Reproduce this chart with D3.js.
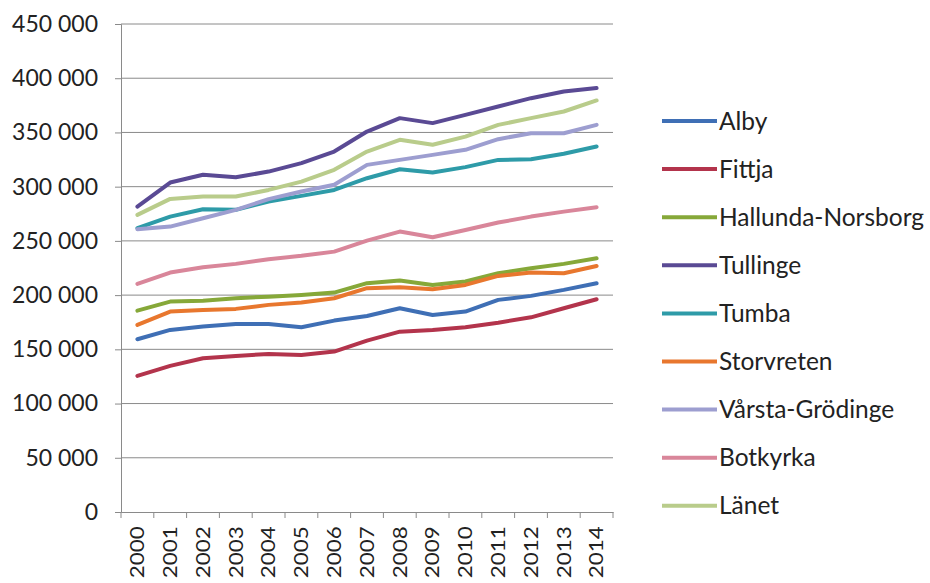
<!DOCTYPE html>
<html><head><meta charset="utf-8">
<script src="https://cdn.jsdelivr.net/npm/d3@7"></script>
<style>body{margin:0;background:#fff}svg{display:block}text{font-family:Lato,"Open Sans",sans-serif;fill:#222}</style>
</head><body><svg id="c" width="930" height="583"></svg>
<script>
const years = ["2000","2001","2002","2003","2004","2005","2006","2007","2008","2009","2010","2011","2012","2013","2014"];
const seriesNames = ["Alby","Fittja","Hallunda-Norsborg","Tullinge","Tumba","Storvreten","Vårsta-Grödinge","Botkyrka","Länet"];
const alby      = [159300,167900,171000,173400,173400,170400,176500,180800,187900,181700,184800,195600,199300,204800,211000];
const fittja    = [125500,134700,141800,143900,145800,144800,147900,158000,166300,167900,170400,174600,179500,187900,196200];
const hallunda  = [185700,194000,194900,197100,198600,200200,202300,211000,213400,209400,212500,220200,224800,228800,234000];
const tullinge  = [281600,303800,311000,308700,313900,321700,332400,350800,363200,358600,366200,373900,381600,387800,390900];
const tumba     = [261700,272400,279200,278600,286300,291500,297000,307800,316100,313000,318000,324700,325300,330300,337000];
const storvreten= [172500,184800,186300,187300,191000,193100,197100,206400,207300,205400,209400,217700,220800,220200,226900];
const varsta    = [260800,263200,270900,278600,288500,295500,301700,320100,324700,329300,334000,343800,349300,349300,357000];
const botkyrka  = [210300,220800,225700,228800,233100,236200,240100,250300,258600,253400,260100,266900,272400,277000,281100];
const lanet     = [274000,288700,290900,290900,297000,304700,315500,332400,343200,338600,346200,357000,363200,369300,379500];
const yTicks = [0,50000,100000,150000,200000,250000,300000,350000,400000,450000];
const colors = ["#3F6FB5","#B3344C","#86A839","#5A4A94","#2E9BA8","#E8772E","#9D9ED0","#D9869A","#B9CC8B"];

const values = [alby,fittja,hallunda,tullinge,tumba,storvreten,varsta,botkyrka,lanet];
const series = seriesNames.map((n,i)=>({name:n, values:values[i], color:colors[i]}));

const svg = d3.select("#c");
const mL=121, mR=613, mT=24, mB=512;
const x = d3.scaleBand().domain(years).range([mL,mR]);
const y = d3.scaleLinear().domain([0,450000]).range([mB,mT]);
const fmt = v => d3.format(",")(v).replace(/,/g," ");

// gridlines
svg.append("g").selectAll("line").data(yTicks.filter(d=>d>0)).join("line")
  .attr("x1",mL).attr("x2",mR).attr("y1",d=>y(d)).attr("y2",d=>y(d))
  .attr("stroke","#8a8a8a").attr("stroke-width",1);

// y axis
const ya = svg.append("g").attr("transform",`translate(${mL},0)`)
  .call(d3.axisLeft(y).tickValues(yTicks).tickFormat(fmt).tickSize(6).tickPadding(17));
ya.select(".domain").attr("stroke","#8a8a8a");
ya.selectAll(".tick line").attr("stroke","#8a8a8a");
ya.selectAll("text").attr("font-size",23).attr("fill","#222").style("font-family","Lato");

// x axis
const xa = svg.append("g").attr("transform",`translate(0,${mB})`)
  .call(d3.axisBottom(x).tickSize(0).tickFormat(d=>d));
xa.select(".domain").attr("stroke","#8a8a8a");
xa.selectAll(".tick text").attr("font-size",19).attr("fill","#222").style("font-family","Lato")
  .attr("transform","rotate(-90) scale(1.18,1)").attr("text-anchor","end").attr("dy","0.36em").attr("x",-12).attr("y",0);
// category boundary tick marks
svg.append("g").selectAll("line").data(years.concat(["end"])).join("line")
  .attr("x1",(d,i)=> i<years.length ? x(d) : mR).attr("x2",(d,i)=> i<years.length ? x(d) : mR)
  .attr("y1",mB).attr("y2",mB+6).attr("stroke","#8a8a8a");

// lines
const line = d3.line().x((d,i)=>x(years[i])+x.bandwidth()/2).y(d=>y(d));
svg.append("g").selectAll("path").data(series).join("path")
  .attr("d",d=>line(d.values)).attr("fill","none").attr("stroke",d=>d.color)
  .attr("stroke-width",4).attr("stroke-linejoin","round").attr("stroke-linecap","round");

// legend
const lg = svg.append("g").selectAll("g").data(series).join("g")
  .attr("transform",(d,i)=>`translate(662,${121+i*48.1})`);
lg.append("line").attr("x1",0).attr("x2",55).attr("stroke",d=>d.color).attr("stroke-width",4);
lg.append("text").attr("x",57).attr("dy","0.35em").attr("font-size",24.5).text(d=>d.name);
</script></body></html>
